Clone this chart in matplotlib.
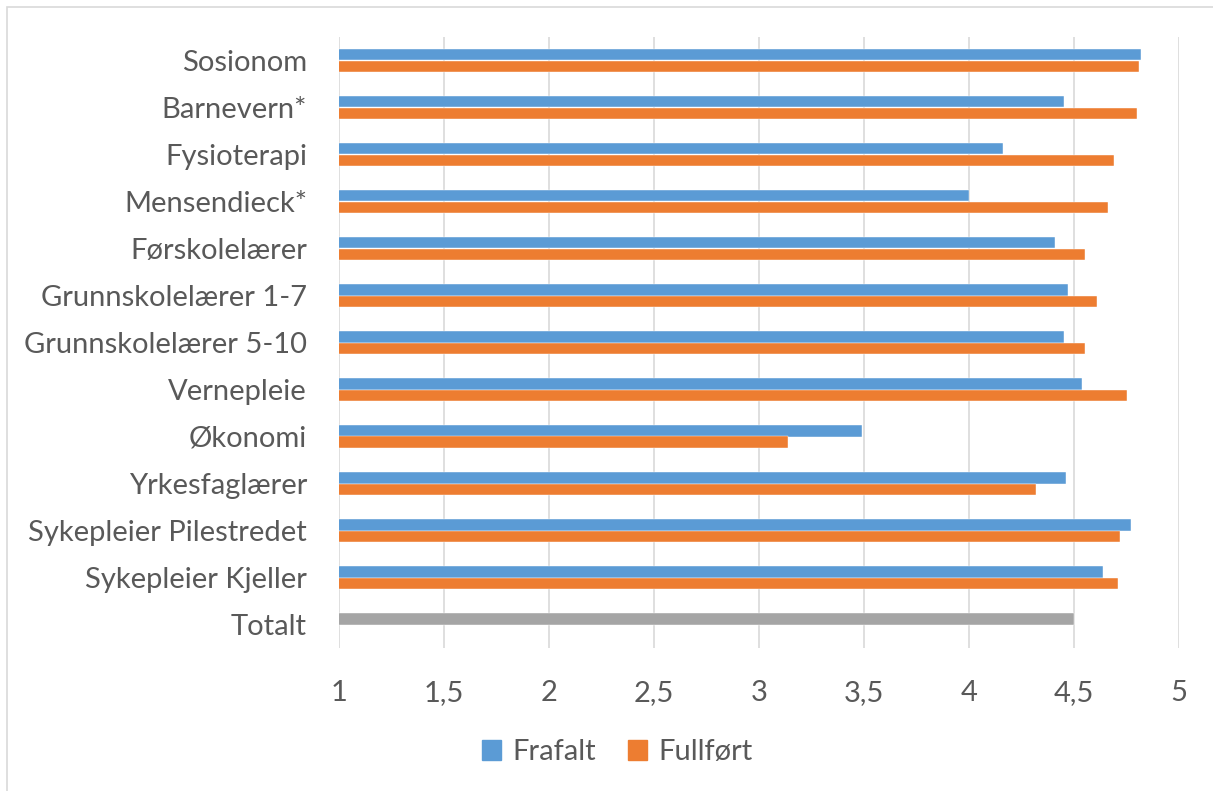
import matplotlib
matplotlib.use("Agg")
import matplotlib.pyplot as plt
from matplotlib.patches import Rectangle, Patch
from matplotlib.ticker import FuncFormatter
import numpy as np

# studieprogram, ovenfra og ned
programs = ["Sosionom", "Barnevern*", "Fysioterapi", "Mensendieck*", "Førskolelærer",
            "Grunnskolelærer 1-7", "Grunnskolelærer 5-10", "Vernepleie", "Økonomi",
            "Yrkesfaglærer", "Sykepleier Pilestredet", "Sykepleier Kjeller", "Totalt"]
frafalt = [4.82, 4.45, 4.16, 4.00, 4.41, 4.47, 4.45, 4.54, 3.49, 4.46, 4.77, 4.64, 4.50]
fullfort = [4.81, 4.80, 4.69, 4.66, 4.55, 4.61, 4.55, 4.75, 3.14, 4.32, 4.72, 4.71, np.nan]
xticks = [1, 1.5, 2, 2.5, 3, 3.5, 4, 4.5, 5]

blue = "#5B9BD5"
orange = "#ED7D31"
grey = "#A5A5A5"
txt = "#595959"

plt.rcParams["font.family"] = ["Lato", "DejaVu Sans"]

fig = plt.figure(figsize=(12.13, 7.91), dpi=100)
ax = fig.add_axes([339 / 1213, 1 - 648 / 791, 840 / 1213, 611 / 791])

y = np.arange(len(programs))
h = 0.255
colors_f = [blue] * (len(programs) - 1) + [grey]
ax.barh(y - h / 2, frafalt, height=h, color=colors_f,
        edgecolor="white", linewidth=0.3, zorder=3)
ax.barh(y + h / 2, fullfort, height=h, color=orange,
        edgecolor="white", linewidth=0.3, zorder=3)

ax.set_xlim(1, 5)
ax.set_ylim(len(programs) - 0.5, -0.5)
ax.set_xticks(xticks)
ax.xaxis.set_major_formatter(FuncFormatter(lambda v, p: ("%g" % v).replace(".", ",")))
ax.set_yticks(y)
ax.set_yticklabels(programs)
ax.tick_params(axis="both", length=0, labelsize=21, labelcolor=txt)
ax.tick_params(axis="x", pad=23)
ax.tick_params(axis="y", pad=23)
ax.grid(axis="x", color="#D9D9D9", linewidth=1.2, zorder=0)
for s in ax.spines.values():
    s.set_visible(False)

handles = [Patch(color=blue, label="Frafalt"), Patch(color=orange, label="Fullført")]
fig.legend(handles=handles, loc="center", bbox_to_anchor=(0.509, 0.049), ncol=2,
           frameon=False, fontsize=21, labelcolor=txt, handlelength=0.65,
           handleheight=0.65, handletextpad=0.4, columnspacing=1.1)

# ramme rundt diagrammet
fig.patches.append(Rectangle((7 / 1213, -0.1), 1.2, 1 - 7 / 791 + 0.1,
                             transform=fig.transFigure, fill=False,
                             edgecolor="#D9D9D9", linewidth=1.2))

fig.savefig("out.png", dpi=100)
